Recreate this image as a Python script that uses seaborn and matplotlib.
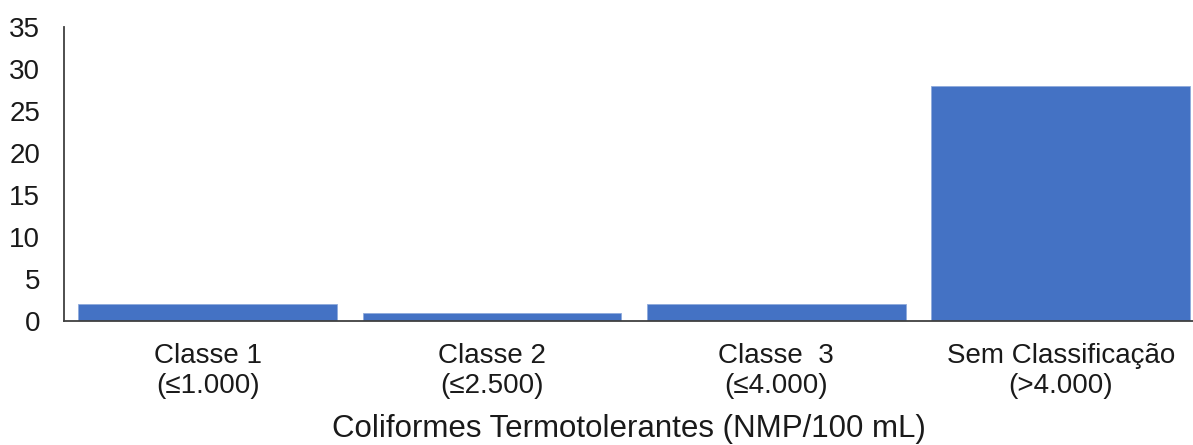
import matplotlib
matplotlib.use("Agg")
import matplotlib.pyplot as plt
import seaborn as sns
import pandas as pd

categories = ["Classe 1\n(≤1.000)", "Classe 2\n(≤2.500)", "Classe  3\n(≤4.000)", "Sem Classificação\n(>4.000)"]
values = [2, 1, 2, 28]
y_ticks = [0, 5, 10, 15, 20, 25, 30, 35]
x_title = "Coliformes Termotolerantes (NMP/100 mL)"

sns.set_theme(style="white")
plt.rcParams['font.family'] = ['Liberation Sans', 'DejaVu Sans']

fig = plt.figure(figsize=(11.93, 4.45), dpi=100)
ax = fig.add_axes([0.0536, 0.2787, 0.9464, 0.6603])

df = pd.DataFrame({"cat": categories, "val": values})
sns.barplot(data=df, x="cat", y="val", ax=ax, color="#4472C4", saturation=1,
            width=0.91, edgecolor="#8FAADC", linewidth=0.6)

ax.set_ylim(0, 35)
ax.set_yticks(y_ticks)
ax.set_xlim(-0.505, 3.465)
ax.tick_params(axis="y", length=0, pad=17, labelsize=20, colors="#1a1a1a")
ax.tick_params(axis="x", length=0, pad=16, labelsize=20, colors="#1a1a1a")
for t in ax.get_xticklabels():
    t.set_linespacing(1.2)
ax.set_ylabel("")
ax.set_xlabel(x_title, fontsize=22.5, color="#1a1a1a", labelpad=11)

for s in ["top", "right"]:
    ax.spines[s].set_visible(False)
for s in ["left", "bottom"]:
    ax.spines[s].set_color("#404040")
    ax.spines[s].set_linewidth(1.3)

fig.savefig("out.png", dpi=100)
